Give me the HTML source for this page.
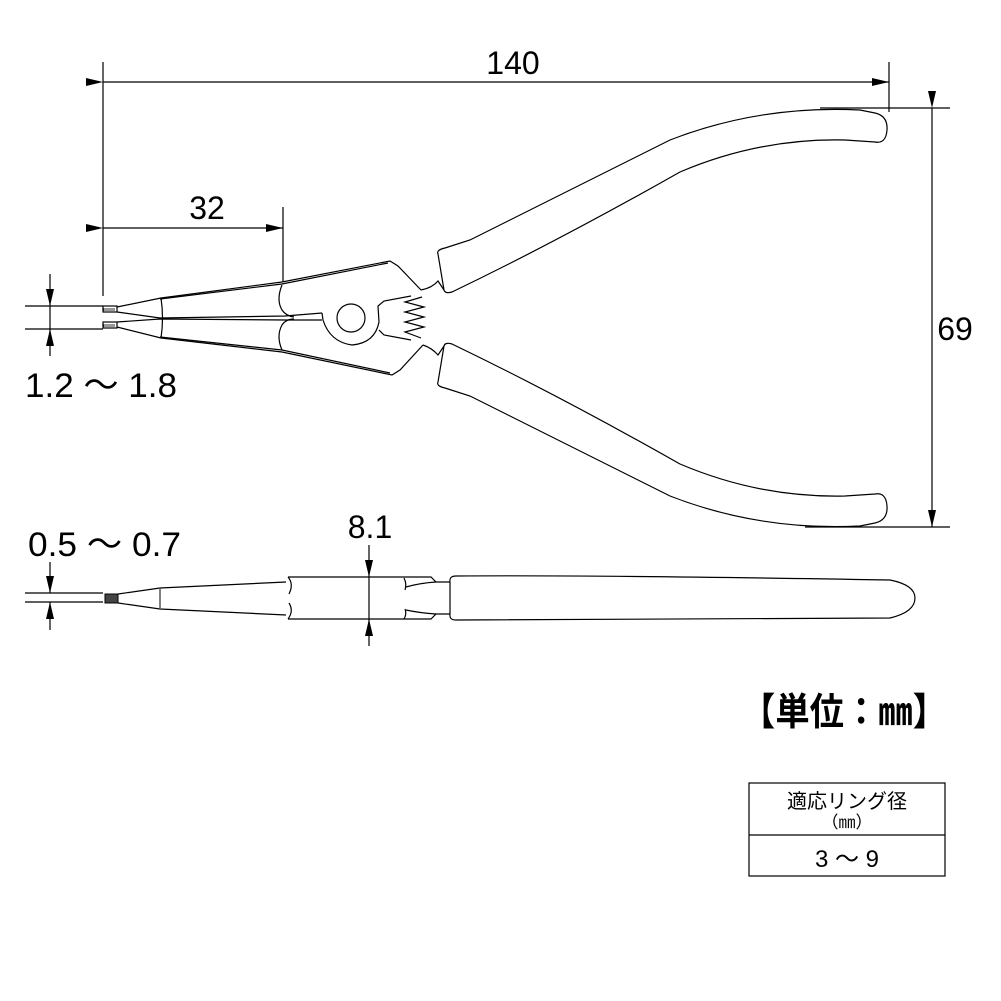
<!DOCTYPE html>
<html><head><meta charset="utf-8"><style>
html,body{margin:0;padding:0;background:#fff}
svg{display:block}
text{font-family:"Liberation Sans","Noto Sans CJK JP",sans-serif;fill:#000}
</style></head><body>
<svg width="1001" height="1001" viewBox="0 0 1001 1001" xmlns="http://www.w3.org/2000/svg">
<defs>
<marker id="b" markerWidth="20" markerHeight="12" refX="17" refY="6" orient="auto" markerUnits="userSpaceOnUse"><path d="M0,2 L17,6 L0,10 z" fill="#000"/></marker>
</defs>
<g stroke="#000" fill="none" stroke-width="1.2">
<line x1="103" y1="62" x2="103" y2="296"/>
<line x1="889" y1="62" x2="889" y2="112"/>
<line x1="283" y1="207" x2="283" y2="282"/>
<line x1="820" y1="108" x2="950" y2="108"/>
<line x1="805" y1="527" x2="950" y2="527"/>
<line x1="103" y1="82" x2="889" y2="82" marker-start="url(#b)" marker-end="url(#b)"/>
<line x1="103" y1="228" x2="283" y2="228" marker-start="url(#b)" marker-end="url(#b)"/>
<line x1="932" y1="108" x2="932" y2="527" marker-start="url(#b)" marker-end="url(#b)"/>
<line x1="25" y1="306" x2="103" y2="306"/>
<line x1="25" y1="329" x2="103" y2="329"/>
<line x1="50" y1="274" x2="50" y2="306" marker-end="url(#b)"/>
<line x1="50" y1="356" x2="50" y2="329" marker-end="url(#b)"/>
<line x1="50" y1="306" x2="50" y2="329"/>
<line x1="25" y1="593" x2="103" y2="593"/>
<line x1="25" y1="602" x2="103" y2="602"/>
<line x1="50" y1="562" x2="50" y2="593" marker-end="url(#b)"/>
<line x1="50" y1="630" x2="50" y2="602" marker-end="url(#b)"/>
<line x1="369" y1="545" x2="369" y2="577" marker-end="url(#b)"/>
<line x1="369" y1="646" x2="369" y2="619" marker-end="url(#b)"/>
<line x1="369" y1="577" x2="369" y2="619"/>

<rect x="103" y="306" width="14" height="6" fill="#fff"/>
<rect x="103" y="322" width="14" height="6" fill="#fff"/>
<path d="M104 308v3M106 308v3M108 308v3M110 308v3M112 308v3M114 308v3M104 324v3M106 324v3M108 324v3M110 324v3M112 324v3M114 324v3" stroke-width="0.8"/>
<path d="M117 307 L161 298 L282 282 L390 261 L398 266 L421 290"/>
<path d="M160 299 L282 284 L388 263"/>
<path d="M117 327 L161 338 L282 352 L392 375 L400 370 L423 345"/>
<path d="M160 337 L282 350 L390 373"/>
<path d="M161 298 Q164 318 161 338"/>
<path d="M117 312 L160 318 L285 316 L322 313"/>
<path d="M117 322 L160 319 L285 320 L322 320"/>
<path d="M282 285 Q276 300 282 310 Q286 316 294 317"/>
<path d="M282 350 Q276 336 282 325 Q286 319 294 319"/>
<path d="M322 313 L323 320 Q330 342 352 345 Q375 343 379 322 L378 306 L384 301 L411 296"/>
<path d="M379 330 L384 335 L411 340"/>
<circle cx="351" cy="318" r="14"/>
<path d="M422 297 L405 302 L424 307 L405 312 L424 317 L405 322 L424 327 L405 332 L421 338"/>
<path d="M438 254 Q436 250 445 248 L470 240 Q560 195 670 140 Q760 105 860 110 L875 113 Q888 116 887 130 Q886 144 875 142 L845 140 Q760 138 680 172 Q560 240 452 292 Q445 294 444 290 Z" fill="#fff"/>
<path d="M438 382 Q436 386 445 388 L470 396 Q560 441 670 496 Q760 531 860 526 L875 523 Q888 520 887 506 Q886 492 875 494 L845 496 Q760 498 680 464 Q560 396 452 344 Q445 342 444 346 Z" fill="#fff"/>
<path d="M421 290 Q432 288 438 281 L444 290"/>
<path d="M423 345 Q432 348 438 355 L444 346"/>

<rect x="105" y="594" width="13" height="9" fill="#444" stroke-width="1"/>
<path d="M118 594 L160 588 L286 582"/>
<path d="M118 603 L160 609 L286 615"/>
<line x1="160" y1="588" x2="160" y2="609" stroke="#555" stroke-width="1.5"/>
<path d="M288 577 L431 577 L436 582 L450 582"/>
<path d="M288 619 L431 619 L436 614 L450 614"/>
<path d="M288 577 Q294 584 289 594 M289 603 Q294 611 288 619"/>
<path d="M404 578 Q407 584 405 590 M405 609 Q407 614 404 619"/>
<path d="M406 587 Q420 583 436 582 M406 610 Q420 613 436 614"/>
<path d="M450 582 Q449 576 456 576 Q600 575 890 580 Q915 585 915 598 Q915 612 890 618 Q600 620 456 620 Q449 620 450 614 Z"/>

<rect x="749" y="783" width="196" height="93"/>
<line x1="749" y1="835" x2="945" y2="835"/>
</g>
<text x="513" y="74" font-size="32" text-anchor="middle">140</text>
<text x="207" y="219" font-size="32" text-anchor="middle">32</text>
<text x="955" y="340" font-size="32" text-anchor="middle">69</text>
<text x="25" y="397" font-size="34" textLength="152" lengthAdjust="spacingAndGlyphs">1.2 ～ 1.8</text>
<text x="28" y="556" font-size="34" textLength="153" lengthAdjust="spacingAndGlyphs">0.5 ～ 0.7</text>
<text x="370" y="538" font-size="32" text-anchor="middle">8.1</text>
<text x="741" y="725" font-size="38" font-weight="bold" textLength="206" lengthAdjust="spacingAndGlyphs">【単位：㎜】</text>
<text x="847" y="808" font-size="20" text-anchor="middle">適応リング径</text>
<text x="847" y="828" font-size="17" text-anchor="middle">（㎜）</text>
<text x="847" y="867" font-size="24" text-anchor="middle">3 ～ 9</text>
</svg>
</body></html>
